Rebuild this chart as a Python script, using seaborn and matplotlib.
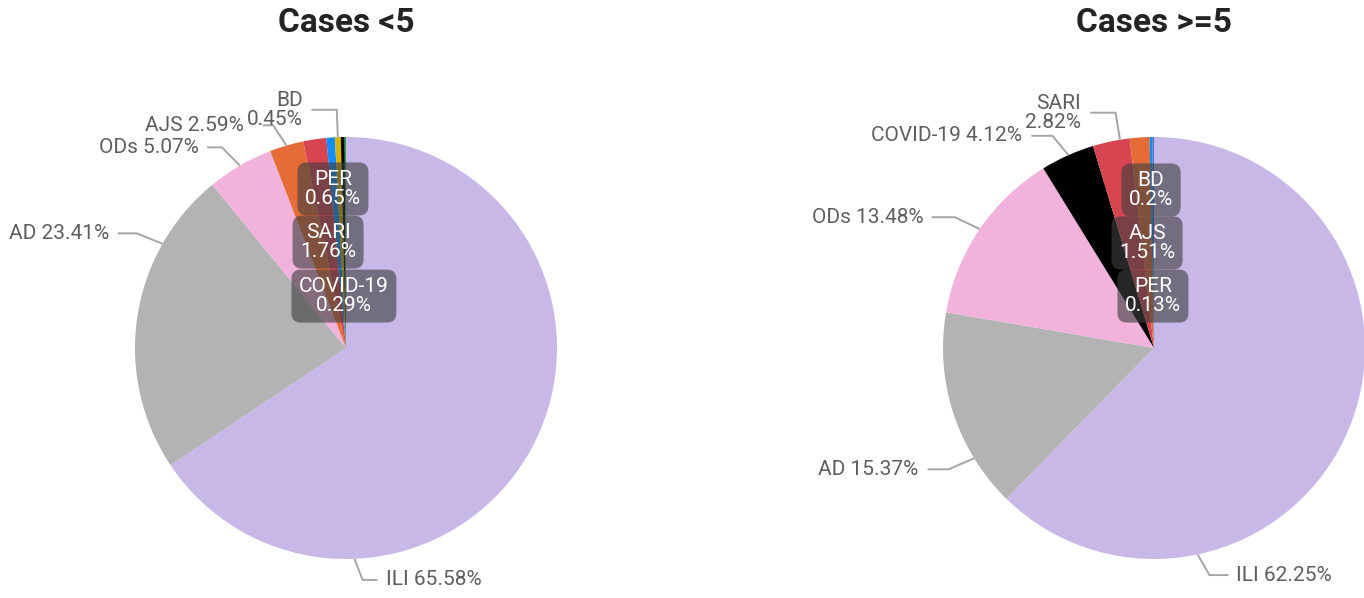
import matplotlib
matplotlib.use("Agg")
import numpy as np
import matplotlib.pyplot as plt
import seaborn as sns

# ---------------- data ----------------
titles = ["Cases <5", "Cases >=5"]

categories_lt5 = ["ILI", "AD", "ODs", "AJS", "SARI", "PER", "BD", "COVID-19", "Other"]
values_lt5 = [65.58, 23.41, 5.07, 2.59, 1.76, 0.65, 0.45, 0.29, 0.10]

categories_ge5 = ["ILI", "AD", "ODs", "COVID-19", "SARI", "AJS", "BD", "PER"]
values_ge5 = [62.25, 15.37, 13.48, 4.12, 2.82, 1.51, 0.20, 0.13]

# ---------------- style ----------------
sns.set_theme(style="white")
plt.rcParams["font.family"] = ["Roboto", "DejaVu Sans"]

colors_lt5 = {"ILI": "#C7B8E8", "AD": "#B3B3B3", "ODs": "#F1B3DC", "AJS": "#E66C37",
              "SARI": "#D64550", "PER": "#118DFF", "BD": "#D9B300", "COVID-19": "#000000",
              "Other": "#1AAB40"}
colors_ge5 = {"ILI": "#C7B8E8", "AD": "#B3B3B3", "ODs": "#F1B3DC", "COVID-19": "#000000",
              "SARI": "#D64550", "AJS": "#E66C37", "BD": "#118DFF", "PER": "#4A6FC0"}

# outside labels: name -> (fraction along wedge, elbow radius, elbow dx, line length, text gap, wrap)
outside_lt5 = {
    "ILI": (0.752, 1.10, 0.035, 0.07, 0.04, False),
    "AD": (0.75, 1.10, 0.035, 0.09, 0.04, False),
    "ODs": (0.5, 1.10, 0.035, 0.07, 0.04, False),
    "AJS": (0.5, 1.10, 0.035, 0.05, 0.09, False),
    "BD": (0.5, 1.13, 0.0, 0.12, 0.04, True),
}
outside_ge5 = {
    "ILI": (0.749, 1.10, 0.035, 0.09, 0.035, False),
    "AD": (0.255, 1.10, 0.035, 0.10, 0.045, False),
    "ODs": (0.505, 1.10, 0.035, 0.11, 0.04, False),
    "COVID-19": (0.52, 1.10, 0.035, 0.10, 0.045, False),
    "SARI": (0.74, 1.13, 0.0, 0.12, 0.045, True),
}
# inside (overflow) boxed labels: name -> text centre
inside_lt5 = {"PER": (-0.062, 0.754), "SARI": (-0.085, 0.502), "COVID-19": (-0.01, 0.246)}
inside_ge5 = {"BD": (-0.014, 0.749), "AJS": (-0.033, 0.498), "PER": (-0.005, 0.246)}

W, H = 1364, 598
R = 211.0  # pixels per unit radius
fig = plt.figure(figsize=(W / 100, H / 100), dpi=100)
fig.patch.set_facecolor("white")

LABEL_COLOR = "#605E5C"
LINE_COLOR = "#A6A6A6"
FS = 15


def fmt(v):
    return f"{v:g}%"


def draw_pie(px0, px1, cx, cy, cats, vals, cmap, outside, inside, title):
    ax = fig.add_axes([px0 / W, 0, (px1 - px0) / W, (H - 70) / H])
    cols = [cmap[c] for c in cats]
    wedges, _ = ax.pie(vals, colors=cols, startangle=90, counterclock=False,
                       radius=1.0, center=(0, 0),
                       wedgeprops=dict(linewidth=0, edgecolor="none", antialiased=True))
    ax.set_aspect("auto")
    ax.set_xlim(-(cx - px0) / R, (px1 - cx) / R)
    ax.set_ylim(-(H - cy) / R, (cy - 70) / R)
    ax.axis("off")

    for w, c, v in zip(wedges, cats, vals):
        if c in outside:
            frac, er, edx, hl, gap, wrap = outside[c]
            t = np.deg2rad(w.theta2 - frac * (w.theta2 - w.theta1))
            ex, ey = np.cos(t), np.sin(t)
            side = 1 if ex > 0 else -1
            bx, by = er * ex + side * edx, er * ey
            lx = bx + side * hl
            ax.plot([ex * 1.0, bx, lx], [ey * 1.0, by, by], color=LINE_COLOR,
                    lw=1.4, solid_capstyle="butt", clip_on=False)
            txt = f"{c}\n{fmt(v)}" if wrap else f"{c} {fmt(v)}"
            ax.text(lx + side * gap, by, txt, ha="left" if side > 0 else "right",
                    va="center", fontsize=FS, color=LABEL_COLOR,
                    multialignment="right", linespacing=1.0)
        if c in inside:
            tx, ty = inside[c]
            ax.text(tx, ty, f"{c}\n{fmt(v)}", ha="center", va="center",
                    fontsize=FS, color="white", linespacing=1.0,
                    multialignment="center",
                    bbox=dict(boxstyle="round,pad=0.36,rounding_size=0.45",
                              facecolor="#404040", alpha=0.62, edgecolor="none"))
    fig.text(cx / W, 1 - 23 / H, title, ha="center", va="center",
             fontsize=24, fontweight="bold", color="#252423")


draw_pie(0, 682, 346, 348, categories_lt5, values_lt5, colors_lt5,
         outside_lt5, inside_lt5, titles[0])
draw_pie(682, 1364, 1154, 348, categories_ge5, values_ge5, colors_ge5,
         outside_ge5, inside_ge5, titles[1])

fig.savefig("out.png", dpi=100, facecolor="white")
